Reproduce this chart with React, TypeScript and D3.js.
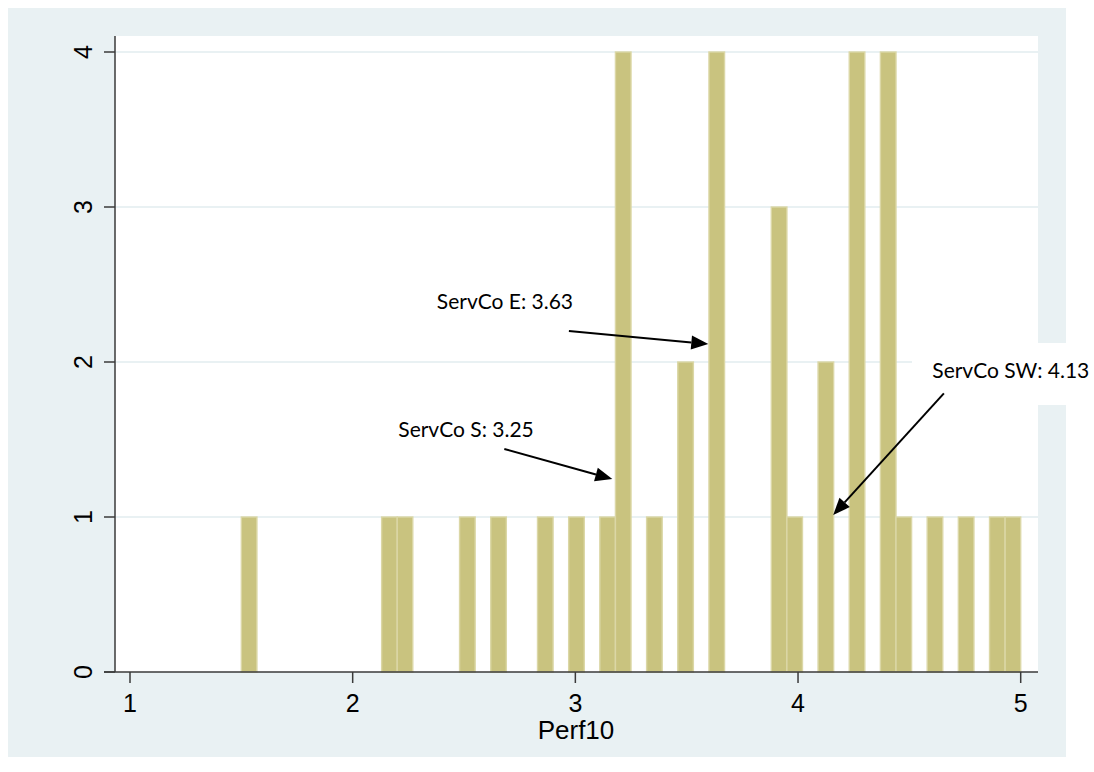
import React, { useEffect, useRef } from 'react';
import * as d3 from 'd3';

// histogram of Perf10, bins of width 0.07 starting at 1.5
const BIN_WIDTH = 0.07;
const binLows = [1.5, 2.13, 2.2, 2.48, 2.62, 2.83, 2.97, 3.11, 3.18, 3.32, 3.46, 3.6, 3.88, 3.95, 4.09, 4.23, 4.37, 4.44, 4.58, 4.72, 4.86, 4.93];
const binCounts = [1, 1, 1, 1, 1, 1, 1, 1, 4, 1, 2, 4, 3, 1, 2, 4, 4, 1, 1, 1, 1, 1];

const xTicks = [1, 2, 3, 4, 5];
const yTicks = [0, 1, 2, 3, 4];

// annotation labels with text anchor, arrow tail and arrow tip in data units
const noteLabels = ['ServCo E: 3.63', 'ServCo S: 3.25', 'ServCo SW: 4.13'];
const noteText = [[2.378, 2.34], [2.205, 1.518], [4.603, 1.895]];
const noteTail = [[2.971, 2.2], [2.681, 1.439], [4.655, 1.798]];
const noteTip = [[3.597, 2.116], [3.166, 1.245], [4.158, 1.013]];

const App = () => {
  const ref = useRef<SVGSVGElement>(null);

  useEffect(() => {
    document.body.style.margin = '0';
    const svg = d3.select(ref.current);
    svg.selectAll('*').remove();

    const width = 1094,
      height = 772,
      plot = { left: 115, top: 36, right: 1038, bottom: 672 };

    const x = d3.scaleLinear().domain([1, 5]).range([130, 1020.7]);
    const y = d3.scaleLinear().domain([0, 4]).range([672, 52]);

    svg.attr('width', width).attr('height', height);

    // outer background
    svg.append('rect')
      .attr('x', 8).attr('y', 8)
      .attr('width', 1058).attr('height', 749)
      .attr('fill', '#e9f1f3');

    // plot region
    svg.append('rect')
      .attr('x', plot.left).attr('y', plot.top)
      .attr('width', plot.right - plot.left).attr('height', plot.bottom - plot.top)
      .attr('fill', '#ffffff');

    // grid lines
    svg.append('g')
      .selectAll('line')
      .data(yTicks.filter(d => d > 0))
      .enter()
      .append('line')
      .attr('x1', plot.left).attr('x2', plot.right)
      .attr('y1', d => y(d)).attr('y2', d => y(d))
      .attr('stroke', '#e9f1f3')
      .attr('stroke-width', 2);

    // bars
    svg.append('g')
      .selectAll('rect')
      .data(binLows)
      .enter()
      .append('rect')
      .attr('x', d => x(d))
      .attr('width', d => x(d + BIN_WIDTH) - x(d))
      .attr('y', (d, i) => y(binCounts[i]))
      .attr('height', (d, i) => y(0) - y(binCounts[i]))
      .attr('fill', '#c9c37f')
      .attr('stroke', '#dbd7a6')
      .attr('stroke-width', 1.4);

    // white box behind the SW label
    svg.append('rect')
      .attr('x', 912).attr('y', 343)
      .attr('width', 182).attr('height', 62)
      .attr('fill', '#ffffff');

    // Y axis
    const yAxis = svg.append('g').attr('transform', `translate(${plot.left},0)`);
    yAxis.append('line')
      .attr('x1', 0).attr('x2', 0)
      .attr('y1', plot.top).attr('y2', plot.bottom)
      .attr('stroke', '#3a3a3a').attr('stroke-width', 1.5);
    yAxis.selectAll('.tick')
      .data(yTicks)
      .enter()
      .append('line')
      .attr('x1', -11).attr('x2', 0)
      .attr('y1', d => y(d)).attr('y2', d => y(d))
      .attr('stroke', '#3a3a3a').attr('stroke-width', 1.5);
    yAxis.selectAll('text')
      .data(yTicks)
      .enter()
      .append('text')
      .attr('transform', d => `translate(-23,${y(d)}) rotate(-90)`)
      .attr('text-anchor', 'middle')
      .style('font-family', '"Liberation Sans", Arial, sans-serif')
      .style('font-size', '25px')
      .attr('fill', '#000')
      .text(d => d);

    // X axis
    const xAxis = svg.append('g').attr('transform', `translate(0,${plot.bottom})`);
    xAxis.append('line')
      .attr('x1', plot.left - 11).attr('x2', plot.right)
      .attr('y1', 0).attr('y2', 0)
      .attr('stroke', '#3a3a3a').attr('stroke-width', 1.5);
    xAxis.selectAll('.tick')
      .data(xTicks)
      .enter()
      .append('line')
      .attr('x1', d => x(d)).attr('x2', d => x(d))
      .attr('y1', 0).attr('y2', 11)
      .attr('stroke', '#3a3a3a').attr('stroke-width', 1.5);
    xAxis.selectAll('text')
      .data(xTicks)
      .enter()
      .append('text')
      .attr('x', d => x(d))
      .attr('y', 40)
      .attr('text-anchor', 'middle')
      .style('font-family', '"Liberation Sans", Arial, sans-serif')
      .style('font-size', '25px')
      .attr('fill', '#000')
      .text(d => d);

    svg.append('text')
      .attr('x', 576).attr('y', 739)
      .attr('text-anchor', 'middle')
      .style('font-family', '"Liberation Sans", Arial, sans-serif')
      .style('font-size', '26px')
      .attr('fill', '#000')
      .text('Perf10');

    // annotations
    const notes = svg.append('g');
    noteLabels.forEach((label, i) => {
      notes.append('text')
        .attr('x', x(noteText[i][0]))
        .attr('y', y(noteText[i][1]))
        .style('font-family', 'Lato, "Open Sans", sans-serif')
        .style('font-size', '21px')
        .attr('fill', '#000')
        .text(label);

      const x0 = x(noteTail[i][0]), y0 = y(noteTail[i][1]);
      const x1 = x(noteTip[i][0]), y1 = y(noteTip[i][1]);
      const ang = Math.atan2(y1 - y0, x1 - x0);
      const len = 17, half = 7;
      const bx = x1 - len * Math.cos(ang), by = y1 - len * Math.sin(ang);

      notes.append('line')
        .attr('x1', x0).attr('y1', y0)
        .attr('x2', bx).attr('y2', by)
        .attr('stroke', '#000').attr('stroke-width', 2);

      const head = [
        [x1, y1],
        [bx + half * Math.sin(ang), by - half * Math.cos(ang)],
        [bx - half * Math.sin(ang), by + half * Math.cos(ang)],
      ];
      notes.append('polygon')
        .attr('points', head.map(p => p.join(',')).join(' '))
        .attr('fill', '#000');
    });
  }, []);

  return <svg ref={ref}></svg>;
};

export default App;
